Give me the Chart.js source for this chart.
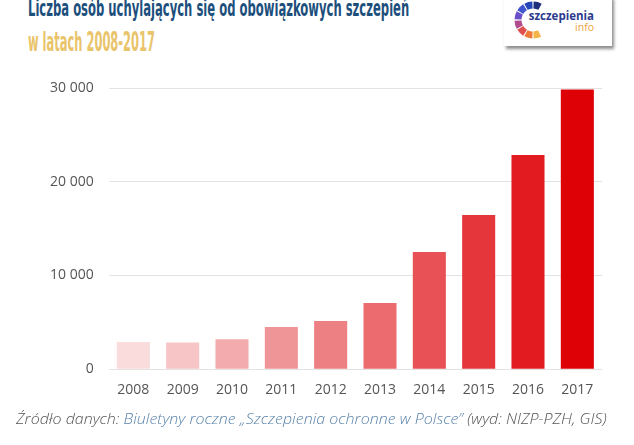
<!DOCTYPE html>
<html lang="pl">
<head>
<meta charset="utf-8">
<script src="https://cdn.jsdelivr.net/npm/chart.js@4/dist/chart.umd.min.js"></script>
<style>
  html, body { margin: 0; padding: 0; background: #fff; }
  body { width: 634px; height: 445px; position: relative; overflow: hidden; font-family: "Open Sans", sans-serif; }
  .fit { position: absolute; white-space: nowrap; transform-origin: 0 0; }
  #title { left: 28px; top: -5px; font-family: "Liberation Sans Narrow", "DejaVu Sans Condensed", sans-serif; font-weight: bold; font-size: 23px; color: #1d4f7c; }
  #subtitle { left: 28px; top: 27px; font-family: "Liberation Sans Narrow", "DejaVu Sans Condensed", sans-serif; font-weight: bold; font-size: 26px; color: #e9c46a; }
  #logo { position: absolute; left: 504px; top: -4px; width: 108px; height: 50px; background: #fff; box-shadow: 2px 3px 3px rgba(0,0,0,0.45); }
  #logo svg { position: absolute; left: 0; top: 0; }
  #footer { left: 16px; top: 408px; font-size: 15px; font-style: italic; font-weight: 300; color: #555; }
  #footer .src { color: #5b84ab; }
  #wrap { position: absolute; left: 0; top: 0; width: 634px; height: 411px; }
</style>
</head>
<body>
<div id="title" class="fit" data-w="381">Liczba osób uchylających się od obowiązkowych szczepień</div>
<div id="subtitle" class="fit" data-w="127">w latach 2008-2017</div>
<div id="logo">
  <svg width="108" height="50" viewBox="0 0 108 50" id="logoSvg"></svg>
</div>
<div id="wrap"><canvas id="chart"></canvas></div>
<div id="footer" class="fit" data-w="591">Źródło danych: <span class="src">Biuletyny roczne „Szczepienia ochronne w Polsce”</span> (wyd: NIZP-PZH, GIS)</div>

<script>
// ===== DANE =====
const lata = ['2008', '2009', '2010', '2011', '2012', '2013', '2014', '2015', '2016', '2017'];
const uchylajacy = [2900, 2850, 3200, 4500, 5150, 7050, 12500, 16450, 22850, 29850];
const kolory = ['#fadcdc', '#f7c5c6', '#f4abad', '#f09597', '#ed8083', '#eb6b6e', '#e85257', '#e5373b', '#e21b20', '#de0206'];
const ticksY = [0, 10000, 20000, 30000];

// tysiące ze spacją: 30 000
const fmt = v => String(v).replace(/\B(?=(\d{3})+(?!\d))/g, ' ');

// ===== LOGO =====
function drawLogo() {
  const svg = document.getElementById('logoSvg');
  const cx = 29, cy = 24, r = 15;
  const segs = [
    [-62, -88, '#1c2f7d'], [-92, -118, '#2346b8'], [-122, -148, '#3f55cf'], [-152, -178, '#6a4fcb'],
    [-182, -208, '#b24a8e'], [-212, -238, '#e0504f'], [-242, -268, '#ee7a3a'], [-272, -296, '#f3b548']
  ];
  const pt = a => [cx + r * Math.cos(a * Math.PI / 180), cy + r * Math.sin(a * Math.PI / 180)];
  let html = '';
  segs.forEach(([a0, a1, c]) => {
    const [x0, y0] = pt(a0), [x1, y1] = pt(a1);
    html += `<path d="M${x0.toFixed(2)} ${y0.toFixed(2)} A${r} ${r} 0 0 0 ${x1.toFixed(2)} ${y1.toFixed(2)}" stroke="${c}" stroke-width="7" fill="none"/>`;
  });
  html += `<text x="90" y="24" text-anchor="end" font-family="Open Sans" font-weight="700" font-size="11.5" fill="#2b3a8c">szczepienia</text>`;
  html += `<text x="90" y="35" text-anchor="end" font-family="Open Sans" font-size="10.5" fill="#eaa53c">info</text>`;
  svg.innerHTML = html;
}

// ===== DOPASOWANIE SZEROKOŚCI TEKSTU =====
function fitTexts() {
  document.querySelectorAll('.fit').forEach(el => {
    const w = +el.dataset.w;
    el.style.transform = `scaleX(${w / el.offsetWidth})`;
  });
}

// ===== WYKRES =====
function initChart() {
  const ctx = document.getElementById('chart').getContext('2d');
  new Chart(ctx, {
    type: 'bar',
    data: {
      labels: lata,
      datasets: [{
        data: uchylajacy,
        backgroundColor: kolory,
        borderWidth: 0,
        barPercentage: 0.67,
        categoryPercentage: 1
      }]
    },
    options: {
      responsive: true,
      maintainAspectRatio: false,
      animation: false,
      layout: { padding: { left: 35, right: 32, top: 88, bottom: 1 } },
      plugins: { legend: { display: false }, tooltip: { enabled: false } },
      scales: {
        x: {
          grid: { display: false, drawTicks: false },
          border: { display: false },
          ticks: { color: '#555', padding: 12, font: { family: 'Open Sans', size: 14 } }
        },
        y: {
          min: 0, max: 30000,
          afterBuildTicks: s => { s.ticks = ticksY.map(v => ({ value: v })); },
          grid: { color: '#e3e3e3', drawTicks: false },
          border: { display: false },
          ticks: { color: '#555', padding: 15, font: { family: 'Open Sans', size: 14 }, callback: v => fmt(v) }
        }
      }
    }
  });
}

drawLogo();
fitTexts();
initChart();
</script>
</body>
</html>
